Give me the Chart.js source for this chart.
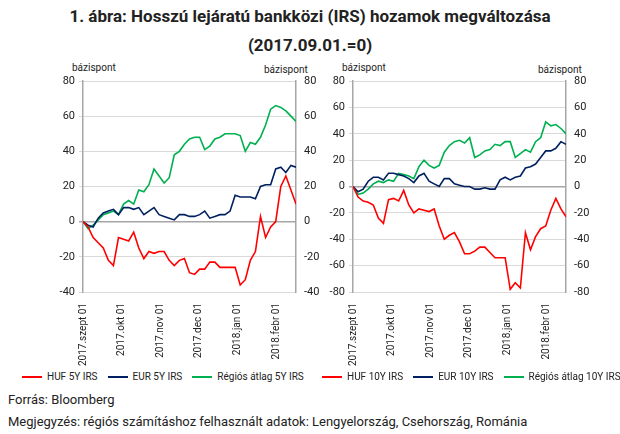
<!DOCTYPE html>
<html><head><meta charset="utf-8">
<script src="https://cdn.jsdelivr.net/npm/chart.js@4"></script>
<style>
body{margin:0;width:620px;height:434px;background:#fff;font-family:Roboto,sans-serif;position:relative;overflow:hidden}
.t{position:absolute;left:0;width:620px;text-align:center;font-weight:bold;font-size:17px;color:#222}
.u{position:absolute;font-size:10px;color:#222}
.c{position:absolute}
.lg{position:absolute;top:371px;font-size:10px;color:#222;display:flex;gap:10px;white-space:nowrap}
.lg span{display:flex;align-items:center}
.lg i{display:inline-block;width:20px;height:2px;margin-right:5px}
.f{position:absolute;left:8px;font-size:13px;color:#222}
</style></head><body>
<div class="t" style="top:6px">1. ábra: Hosszú lejáratú bankközi (IRS) hozamok megváltozása</div>
<div class="t" style="top:35px">(2017.09.01.=0)</div>
<div class="u" style="left:72px;top:62px">bázispont</div>
<div class="u" style="left:264px;top:64px">bázispont</div>
<div class="u" style="left:342px;top:62px">bázispont</div>
<div class="u" style="left:538px;top:64px">bázispont</div>
<div class="c" style="left:40px;top:70px"><canvas id="c1" width="285" height="300"></canvas></div>
<div class="c" style="left:310px;top:70px"><canvas id="c2" width="290" height="300"></canvas></div>
<div class="lg" style="left:22px"><span><i style="background:#ff0000"></i>HUF 5Y IRS</span><span><i style="background:#002060"></i>EUR 5Y IRS</span><span><i style="background:#00b050"></i>Régiós átlag 5Y IRS</span></div>
<div class="lg" style="left:322px"><span><i style="background:#ff0000"></i>HUF 10Y IRS</span><span><i style="background:#002060"></i>EUR 10Y IRS</span><span><i style="background:#00b050"></i>Régiós átlag 10Y IRS</span></div>
<div class="f" style="top:392px">Forrás: Bloomberg</div>
<div class="f" style="top:414px">Megjegyzés: régiós számításhoz felhasznált adatok: Lengyelország, Csehország, Románia</div>
<script>
const days=[0,4,8,12,16,20,24,28,32,36,40,44,48,52,56,60,64,68,72,76,80,84,88,92,96,100,104,108,112,116,120,124,128,132,136,140,144,148,152,156,160,164,168];
const tickDays=[0,30,61,91,122,153];
const tickLabels=["2017.szept 01","2017.okt 01","2017.nov 01","2017.dec 01","2018.jan 01","2018.febr 01"];
const huf5=[0,-3,-9,-12,-15,-22,-25,-9,-10,-11,-6,-15,-21,-17,-18,-17,-17,-22,-25,-22,-21,-29,-30,-27,-27,-23,-23,-26,-26,-26,-26,-36,-33,-22,-17,3,-9,-3,0,20,26,18,10];
const eur5=[0,-2,-3,2,5,6,7,4,8,8,7,8,4,6,8,4,3,2,1,4,4,3,3,4,6,2,3,4,4,6,15,14,14,14,13,20,21,21,30,31,28,32,31];
const reg5=[0,-4,-2,1,4,5,6,4,10,12,10,18,17,21,30,26,22,25,38,40,44,47,48,48,41,43,47,48,50,50,50,49,40,45,44,48,55,64,66,65,63,60,57];
const huf10=[0,-8,-11,-12,-14,-24,-28,-10,-9,-11,-3,-14,-20,-17,-18,-19,-17,-30,-40,-37,-35,-42,-51,-51,-49,-46,-46,-50,-54,-54,-54,-78,-73,-77,-35,-48,-38,-32,-30,-18,-9,-17,-23];
const eur10=[0,-4,-2,4,7,7,5,10,10,9,8,6,3,8,10,4,2,0,6,6,2,1,0,0,-2,-2,-1,-2,-2,5,7,5,7,8,14,15,17,22,27,27,29,34,32];
const reg10=[0,-6,-5,-2,2,4,3,5,4,10,9,8,6,15,20,16,14,16,26,31,34,35,33,37,22,24,27,28,32,31,34,34,22,25,28,26,34,37,49,46,47,44,40];
const ticks5=[-40,-20,0,20,40,60,80];
const ticks10=[-80,-60,-40,-20,0,20,40,60,80];

function mk(id,series,min,max,tks,rw){
  const pts=a=>a.map((v,i)=>({x:days[i],y:v}));
  const cols=['#ff0000','#002060','#00b050'];
  const yax=(pos,w)=>({position:pos,min:min,max:max,
    afterBuildTicks:s=>{s.ticks=tks.map(v=>({value:v}))},
    afterFit:s=>{s.width=w},
    ticks:{color:'#222',font:{family:'Roboto',size:11},padding:4},
    border:{color:'#a6a6a6',width:1.5},
    grid:{display:pos==='left',drawTicks:true,tickLength:4,
      color:c=>c.tick&&c.tick.value===0?'#a6a6a6':'#d9d9d9',
      lineWidth:c=>c.tick&&c.tick.value===0?1.5:1},
  });
  new Chart(document.getElementById(id),{type:'line',
    data:{datasets:series.map((s,i)=>({data:pts(s),borderColor:cols[i],borderWidth:1.6,pointRadius:0,tension:0,fill:false}))},
    options:{responsive:false,animation:false,layout:{padding:{top:11}},
      plugins:{legend:{display:false},tooltip:{enabled:false}},
      scales:{
        x:{type:'linear',min:0,max:168,afterBuildTicks:s=>{s.ticks=tickDays.map(v=>({value:v}))},
          afterFit:s=>{s.height=78},
          ticks:{minRotation:90,maxRotation:90,color:'#222',font:{family:'Roboto',size:10},callback:v=>tickLabels[tickDays.indexOf(v)]},
          grid:{display:false},border:{display:false}},
        y:yax('left',43),
        y2:yax('right',rw)
      }}});
}
mk('c1',[huf5,eur5,reg5],-40,80,ticks5,29);
mk('c2',[huf10,eur10,reg10],-80,80,ticks10,34);
</script></body></html>
